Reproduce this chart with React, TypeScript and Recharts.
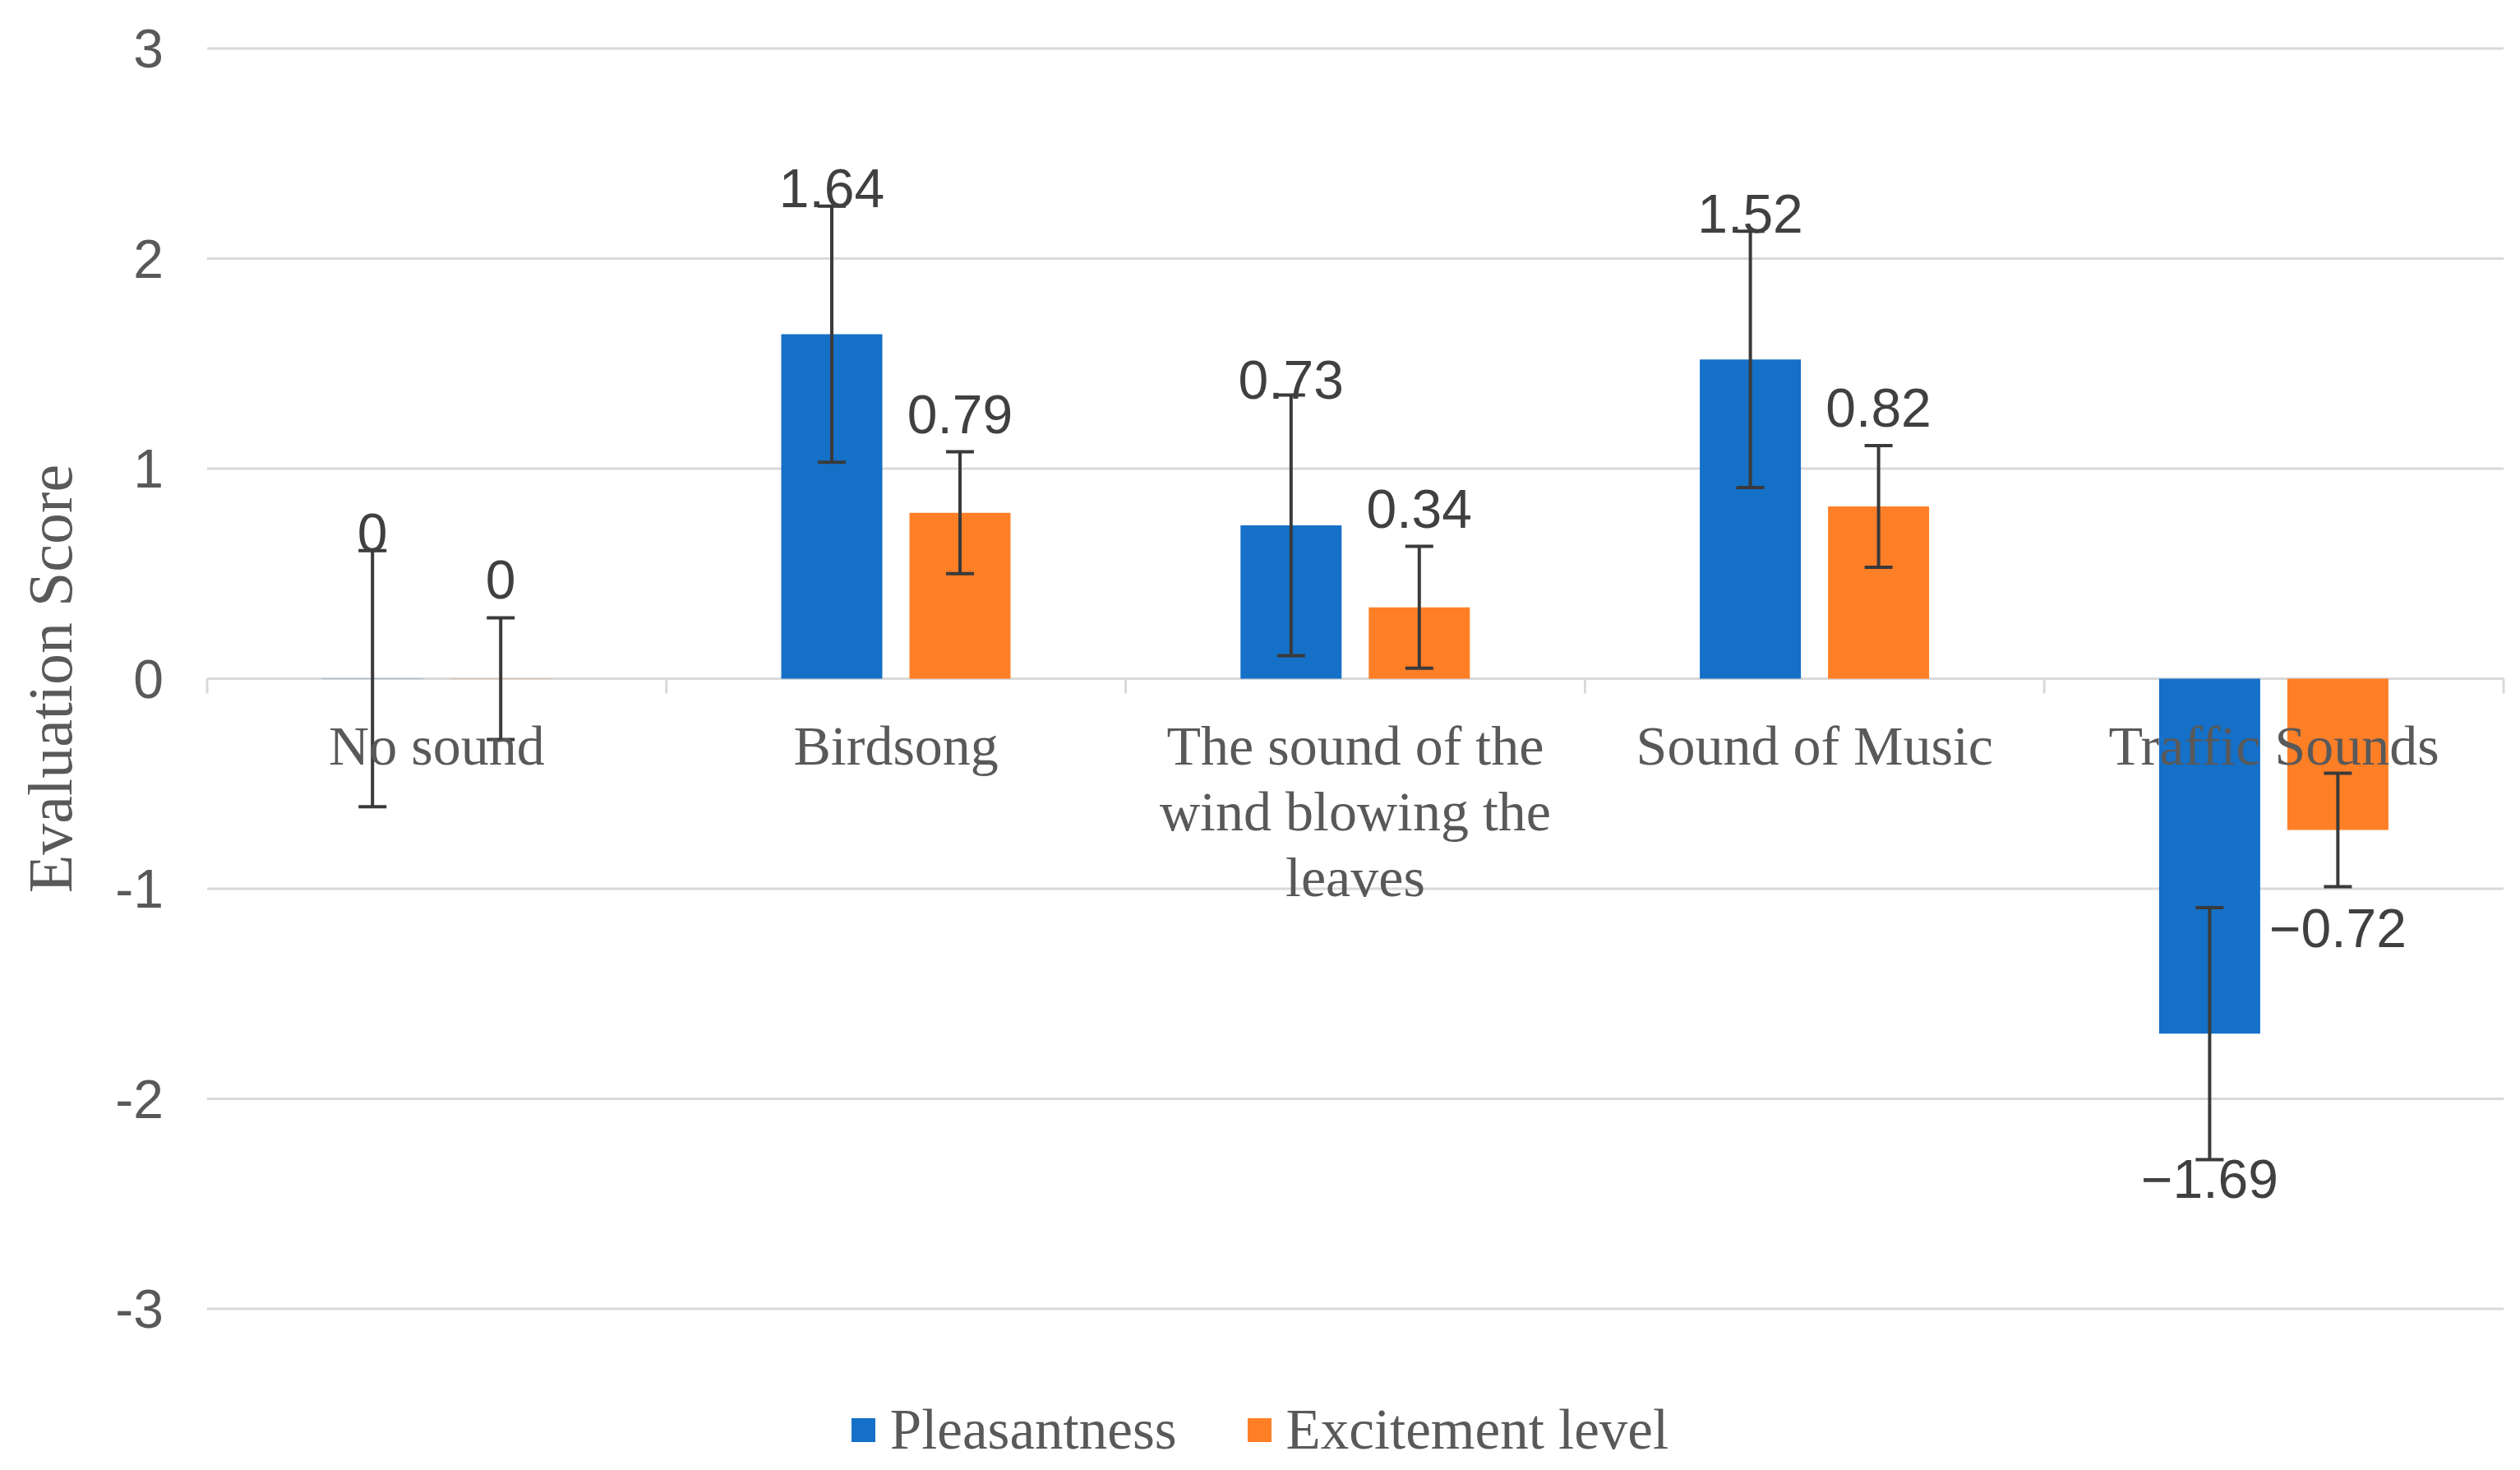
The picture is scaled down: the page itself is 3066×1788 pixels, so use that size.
import { Bar, BarChart, CartesianGrid, ErrorBar, LabelList, Legend, XAxis, YAxis } from "recharts";

const categories = [
  "No sound",
  "Birdsong",
  "The sound of the\nwind blowing the\nleaves",
  "Sound of Music",
  "Traffic Sounds",
];
const pleasantness = [0, 1.64, 0.73, 1.52, -1.69];
const excitement = [0, 0.79, 0.34, 0.82, -0.72];
const pleasantnessErr = [0.61, 0.61, 0.62, 0.61, 0.6];
const excitementErr = [0.29, 0.29, 0.29, 0.29, 0.27];
const yTicks = [-3, -2, -1, 0, 1, 2, 3];

const data = categories.map((name, i) => ({
  name,
  p: pleasantness[i],
  e: excitement[i],
  pErr: pleasantnessErr[i],
  eErr: excitementErr[i],
}));

const W = 3066;
const H = 1788;
const M = { top: 59, right: 20, bottom: 166, left: 0 };
const Y_AXIS_W = 252;
const X_AXIS_H = 30;
const PLOT_TOP = M.top;
const PLOT_H = H - M.top - M.bottom - X_AXIS_H;
const PLOT_W = W - M.left - M.right - Y_AXIS_W;
const Y_MIN = -3;
const Y_MAX = 3;
const ZERO_Y = PLOT_TOP + (PLOT_H * Y_MAX) / (Y_MAX - Y_MIN);
const BAND = PLOT_W / categories.length;

const BLUE = "#1570C8";
const ORANGE = "#FF7F27";
const GRID = "#D9D9D9";
const TEXT = "#595959";
const SERIF = '"Liberation Serif", "Times New Roman", serif';
const SANS = '"Liberation Sans", Arial, sans-serif';

const series = [
  { key: "p", err: "pErr", name: "Pleasantness", color: BLUE, labelOffset: 177 },
  { key: "e", err: "eErr", name: "Excitement level", color: ORANGE, labelOffset: 120 },
];

function fmt(v: number) {
  if (v === 0) return "0";
  return v < 0 ? "\u2212" + Math.abs(v).toFixed(2) : v.toFixed(2);
}

function makeLabel(offset: number) {
  return (props: any) => {
    const { x, y, width, height, value } = props;
    const v = Number(value);
    const top = Math.min(y, y + height);
    const bottom = Math.max(y, y + height);
    const cx = x + width / 2;
    const cy = v >= 0 ? top - offset : bottom + offset;
    return (
      <text
        x={cx}
        y={cy}
        textAnchor="middle"
        dominantBaseline="central"
        fill="#404040"
        fontFamily={SANS}
        fontSize={66}
      >
        {fmt(v)}
      </text>
    );
  };
}

function CategoryTick(props: any) {
  const { x, payload, index } = props;
  const lines = String(payload.value).split("\n");
  const left = x - BAND / 2;
  return (
    <g>
      <line x1={left} x2={left} y1={ZERO_Y} y2={ZERO_Y + 18} stroke={GRID} strokeWidth={3} />
      {index === categories.length - 1 && (
        <line x1={x + BAND / 2} x2={x + BAND / 2} y1={ZERO_Y} y2={ZERO_Y + 18} stroke={GRID} strokeWidth={3} />
      )}
      <text textAnchor="middle" fill={TEXT} fontFamily={SERIF} fontSize={68}>
        {lines.map((l, i) => (
          <tspan key={i} x={x} y={ZERO_Y + 104 + i * 80}>
            {l}
          </tspan>
        ))}
      </text>
    </g>
  );
}

function LegendContent() {
  return (
    <div
      style={{
        display: "flex",
        justifyContent: "center",
        alignItems: "center",
        height: 80,
        fontFamily: SERIF,
        fontSize: 69,
        color: TEXT,
      }}
    >
      {series.map((s, i) => (
        <div key={s.key} style={{ display: "flex", alignItems: "center", marginLeft: i ? 86 : 0 }}>
          <div style={{ width: 29, height: 29, background: s.color, marginRight: 18 }} />
          <span style={{ lineHeight: 1 }}>{s.name}</span>
        </div>
      ))}
    </div>
  );
}

export default function App() {
  return (
    <div style={{ position: "absolute", left: 0, top: 0, width: W, height: H, background: "#fff" }}>
      <BarChart width={W} height={H} data={data} margin={M} barCategoryGap="25%" barGap={33}>
        <CartesianGrid stroke={GRID} strokeWidth={3} vertical={false} />
        <YAxis
          width={Y_AXIS_W}
          domain={[Y_MIN, Y_MAX]}
          ticks={yTicks}
          axisLine={false}
          tickLine={false}
          tickSize={0}
          tickMargin={53}
          tick={{ fill: TEXT, fontFamily: SANS, fontSize: 66 }}
          label={{
            content: () => (
              <text
                transform={`translate(61, ${PLOT_TOP + PLOT_H / 2}) rotate(-90)`}
                textAnchor="middle"
                dominantBaseline="central"
                fill={TEXT}
                fontFamily={SERIF}
                fontSize={76}
              >
                Evaluation Score
              </text>
            ),
          }}
        />
        {series.map((s) => (
          <Bar
            key={s.key}
            dataKey={s.key}
            name={s.name}
            fill={s.color}
            minPointSize={0.3}
            isAnimationActive={false}
          >
            <ErrorBar dataKey={s.err} width={17} stroke="#3A3A3A" strokeWidth={4} direction="y" />
            <LabelList dataKey={s.key} content={makeLabel(s.labelOffset)} />
          </Bar>
        ))}
        <XAxis
          dataKey="name"
          height={X_AXIS_H}
          axisLine={false}
          tickLine={false}
          interval={0}
          tick={<CategoryTick />}
        />
        <Legend
          layout="horizontal"
          align="center"
          verticalAlign="middle"
          content={<LegendContent />}
          wrapperStyle={{ top: 1699, left: 0, width: W, height: 80 }}
        />
      </BarChart>
    </div>
  );
}
